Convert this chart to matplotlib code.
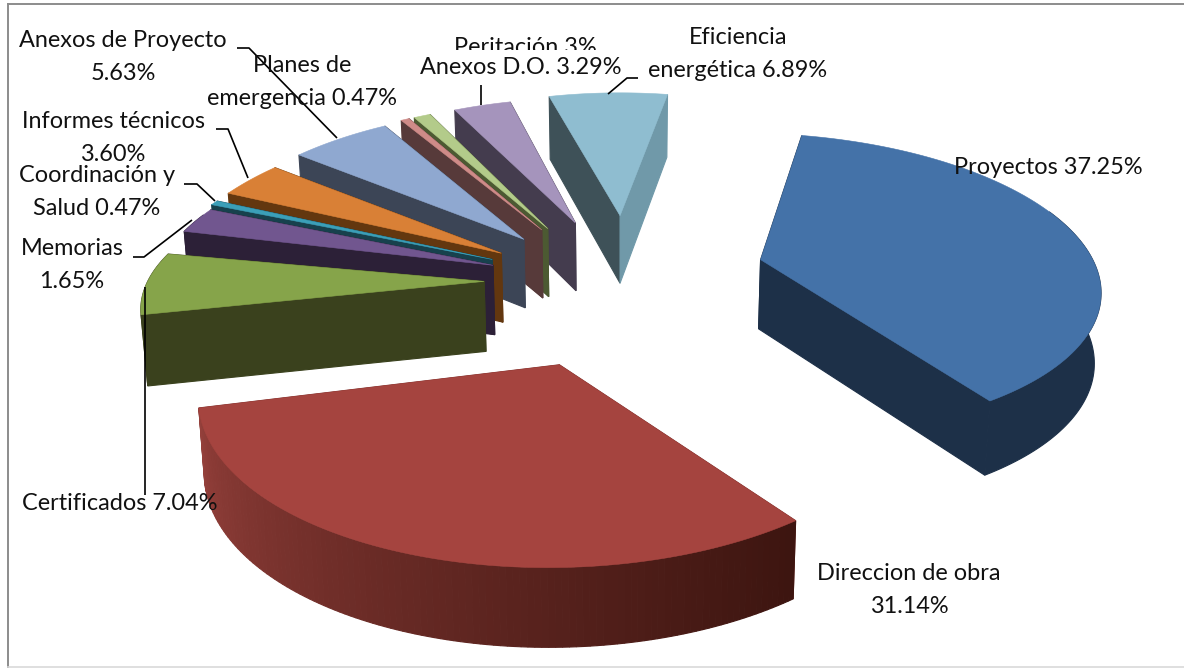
"""Exploded 3D pie of project types, drawn from shares with a small perspective model."""

import matplotlib

matplotlib.use("Agg")
import matplotlib.pyplot as plt
import numpy as np
from matplotlib.colors import to_rgb
from matplotlib.patches import Polygon, Rectangle

plt.rcParams["font.family"] = ["Lato", "DejaVu Sans"]

# clockwise from the first slice
categories = [
  "Proyectos", "Direccion de obra", "Certificados", "Memorias",
  "Coordinación y Salud", "Informes técnicos", "Anexos de Proyecto",
  "Planes de emergencia", "Peritación", "Anexos D.O.", "Eficiencia energética",
]
# Memorias and Peritación are drawn wider/thinner than their labels say, use the drawn width
shares = [37.25, 31.14, 7.04, 2.60, 0.47, 3.60, 5.63, 0.47, 0.95, 3.29, 6.89]

explode = [0.455, 0.58, 0.40, 0.40, 0.42, 0.42, 0.44, 0.47, 0.47, 0.48, 0.52]
radius_x = [1.0, 0.96, 0.99, 1.0, 1.0, 1.0, 1.0, 1.0, 1.0, 1.0, 1.0]
radius_y = [1.12, 1.05, 1.0, 1.15, 1.15, 1.2, 1.22, 1.2, 1.2, 1.2, 1.2]
# rotation of a slice's own edges, and of the direction it is pulled out in
turn = [2, -2, -1.5, 0, 0, 0, 0, 0, 0, 0, 0]
aim = [-9, -5, 0, 0, 0, 0, 0, 0, 0, 4, 2.5]

top_colors = [
  "#4472a8", "#a5443f", "#86a44a", "#71568f", "#3b9fb8", "#d98036",
  "#8fa8d0", "#cf8b88", "#b3cb8a", "#a594bc", "#8fbdd0",
]
wall_colors = [
  "#1d3048", "#7a2f2b", "#3a411d", "#2c2037", "#17414d", "#63370f",
  "#3c4556", "#573a3a", "#4c5a32", "#443c4e", "#3e5158",
]
end_wall_colors = {10: "#7099a9"}
# outer wall of the big red slice fades from left to right
red_fade = ("#95403b", "#3d1510")

FIRST_ANGLE = 10.0
CX, CY = 620.0, 282.0
SCALE_X, SCALE_Y = 340.0, 137.0
CAMERA = 7.0
WALL = 70.0
LEAN = 0.014


def project(x, y, z=0.0):
  x = np.asarray(x, dtype=float)
  y = np.asarray(y, dtype=float)
  s = CAMERA / (CAMERA + y)
  return CX + x * SCALE_X * s * (1 - LEAN * z), CY - y * SCALE_Y * s + z * WALL * np.sqrt(s)


def add_wall(ax, xs, ys, color, z):
  tx, ty = project(xs, ys)
  bx, by = project(xs, ys, 1.0)
  points = np.r_[np.column_stack([tx, ty]), np.column_stack([bx, by])[::-1]]
  ax.add_patch(Polygon(
    points, closed=True, facecolor=color, edgecolor=color, linewidth=0.8, zorder=z,
  ))


def mix(c0, c1, t):
  a = np.array(to_rgb(c0))
  b = np.array(to_rgb(c1))
  return tuple(a + (b - a) * t)


def draw_slice(ax, index, start, end, z):
  mid = np.radians((start + end) / 2 + aim[index])
  ox = explode[index] * np.sin(mid)
  oy = explode[index] * np.cos(mid)
  shift = turn[index]
  angles = np.radians(np.linspace(start + shift, end + shift, 120))
  arc_x = ox + radius_x[index] * np.sin(angles)
  arc_y = oy + radius_y[index] * np.cos(angles)

  near = wall_colors[index]
  add_wall(ax, [ox, arc_x[0]], [oy, arc_y[0]], near, z)
  add_wall(ax, [ox, arc_x[-1]], [oy, arc_y[-1]], end_wall_colors.get(index, near), z)

  # only the part of the rim turned towards the viewer shows
  facing = np.cos(angles) < 0.35
  if facing.any():
    if index == 1:
      steps = np.flatnonzero(facing)
      for i in steps[:-1]:
        t = (i - steps[0]) / (steps[-1] - steps[0])
        color = mix(red_fade[1], red_fade[0], t ** 1.1)
        add_wall(ax, arc_x[i:i + 2], arc_y[i:i + 2], color, z + 0.1)
    else:
      add_wall(ax, arc_x[facing], arc_y[facing], near, z + 0.1)

  tx, ty = project(np.r_[ox, arc_x], np.r_[oy, arc_y])
  ax.add_patch(Polygon(
    np.column_stack([tx, ty]), closed=True, facecolor=top_colors[index],
    edgecolor=top_colors[index], linewidth=0.4, zorder=z + 0.2,
  ))


def main():
  fig = plt.figure(figsize=(11.84, 6.68), dpi=100)
  ax = fig.add_axes([0, 0, 1, 1])
  ax.set_xlim(0, 1184)
  ax.set_ylim(668, 0)
  ax.axis("off")

  ax.plot([8, 8], [667, 4], color="#8c8c8c", lw=1.4, zorder=1)
  ax.plot([8, 1184], [4, 4], color="#8c8c8c", lw=1.4, zorder=1)
  ax.plot([8, 1184], [667, 667], color="#d9d9d9", lw=1.2, zorder=1)

  total = sum(shares)
  edges = FIRST_ANGLE + np.r_[0, np.cumsum(shares)] / total * 360
  mids = np.radians((edges[:-1] + edges[1:]) / 2)
  # far slices first
  order = np.argsort(-(np.array(explode) + 1) * np.cos(mids))
  for rank, index in enumerate(order):
    draw_slice(ax, index, edges[index], edges[index + 1], 2 + rank)

  leaders = [
    ([237, 249, 337], [48, 48, 138]),
    ([216, 228, 248], [129, 129, 178]),
    ([184, 197, 215], [184, 184, 201]),
    ([133, 144, 192], [257, 257, 220]),
    ([145, 145], [287, 495]),
    ([481, 481], [85, 105]),
    ([638, 627, 608], [78, 78, 94]),
  ]
  for xs, ys in leaders:
    ax.plot(xs, ys, color="black", lw=1.2, zorder=40, solid_capstyle="butt")

  labels = [
    (1048, 168, "Proyectos 37.25%"),
    (909, 590, "Direccion de obra\n31.14%"),
    (120, 504, "Certificados 7.04%"),
    (72, 265, "Memorias\n1.65%"),
    (97, 192, "Coordinación y\nSalud 0.47%"),
    (113, 138, "Informes técnicos\n3.60%"),
    (123, 57, "Anexos de Proyecto\n5.63%"),
    (302, 82, "Planes de\nemergencia 0.47%"),
    (521, 68, "Anexos D.O. 3.29%"),
    (738, 54, "Eficiencia\nenergética 6.89%"),
  ]
  for x, y, text in labels:
    ax.text(x, y, text, ha="center", va="center", fontsize=16.9, color="#111111",
            linespacing=1.66, zorder=50)
  # the neighbouring label box cuts this one off in the original
  cut = ax.text(525, 47, "Peritación 3%", ha="center", va="center", fontsize=16.9,
                color="#111111", zorder=50, clip_on=True)
  cut.set_clip_path(Rectangle((400, 20), 250, 30, transform=ax.transData))

  fig.savefig("out.png", dpi=100)


if __name__ == "__main__":
  main()
